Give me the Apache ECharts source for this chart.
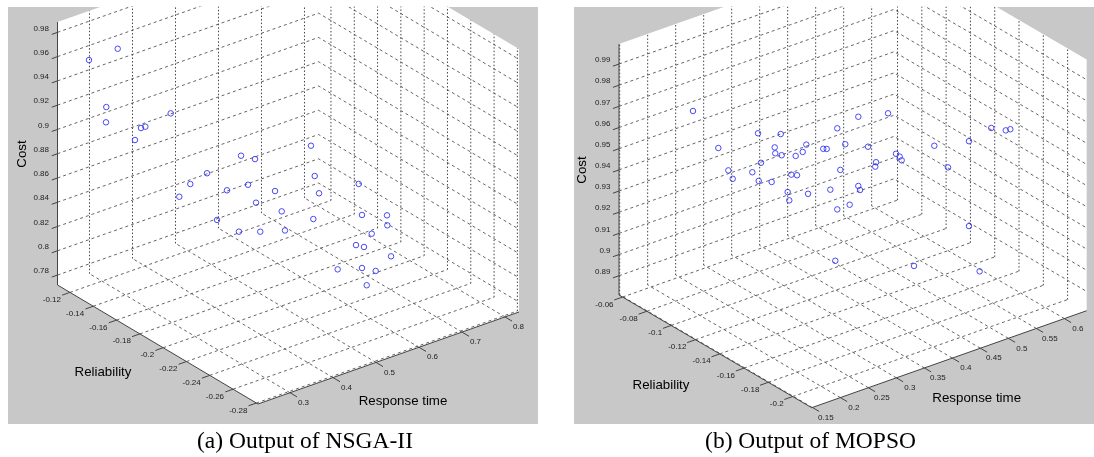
<!DOCTYPE html>
<html>
<head>
<meta charset="utf-8">
<script src="https://cdn.jsdelivr.net/npm/echarts@6/dist/echarts.min.js"></script>
<style>html,body{margin:0;padding:0;background:#fff}#c{width:1094px;height:457px}</style>
</head>
<body>
<div id="c"></div>
<script>
// Tick labels
const nsgaTimeTicks = [0.3, 0.4, 0.5, 0.6, 0.7, 0.8];
const nsgaReliabilityTicks = [-0.12, -0.14, -0.16, -0.18, -0.2, -0.22, -0.24, -0.26, -0.28];
const nsgaCostTicks = [0.78, 0.8, 0.82, 0.84, 0.86, 0.88, 0.9, 0.92, 0.94, 0.96, 0.98];
const mopsoTimeTicks = [0.15, 0.2, 0.25, 0.3, 0.35, 0.4, 0.45, 0.5, 0.55, 0.6];
const mopsoReliabilityTicks = [-0.06, -0.08, -0.1, -0.12, -0.14, -0.16, -0.18, -0.2];
const mopsoCostTicks = [0.89, 0.9, 0.91, 0.92, 0.93, 0.94, 0.95, 0.96, 0.97, 0.98, 0.99];

// Values. A single 3D view does not reveal depth, so each
// point is read as lying on the box's vertical diagonal plane (see reliabilityOnPlane).
const nsgaTime = [.2670,.3048,.2898,.2894,.3745,.3354,.3411,.3275,.4670,.4854,.4222,.4003,.4762,.4485,.3858,.5117,.4867,.4354,.5205,.4643,.4923,.5248,.5621,.5590,.5639,.5696,.6218,.6261,.6590,.6594,.6389,.6182,.6287,.6643,.5941,.6261,.6441,.6323];
const nsgaCost = [.9587,.9694,.9208,.9082,.9187,.9052,.9065,.8950,.8872,.8851,.8711,.8614,.8636,.8580,.8504,.8597,.8492,.8331,.8433,.8245,.8255,.8277,.8385,.8988,.8740,.8600,.8696,.8442,.8451,.8369,.8292,.8191,.8179,.8115,.7982,.8005,.7987,.7865];
const mopsoTime = [.2265,.2531,.2948,.3186,.3123,.3129,.3196,.3455,.3417,.3343,.3633,.3669,.3780,.3864,.2979,.2636,.2682,.2888,.2955,.3091,.3297,.3357,.3812,.3707,.3259,.3473,.3276,.3780,.4001,.4313,.4103,.4397,.4435,.4456,.4187,.4179,.4001,.4019,.3910,.4799,.5163,.5397,.5549,.5597,.4943,.5163,.3759,.4586,.5275];
const mopsoCost = [.9690,.9519,.9595,.9595,.9531,.9503,.9495,.9549,.9514,.9494,.9532,.9532,.9631,.9557,.9456,.9415,.9376,.9410,.9370,.9367,.9405,.9403,.9435,.9340,.9322,.9317,.9283,.9248,.9689,.9710,.9549,.9520,.9507,.9490,.9477,.9456,.9362,.9343,.9272,.9564,.9591,.9657,.9648,.9654,.9464,.9190,.9005,.8993,.8978];

const panels = [
  { name: 'a', timeTicks: nsgaTimeTicks, relTicks: nsgaReliabilityTicks, costTicks: nsgaCostTicks,
    time: nsgaTime, cost: nsgaCost,
    range: { t: [.2256, .8326], r: [-.2814, -.1093], c: [.7718, .9885] },
    bottom: [258, 404], right: [519, 312], left: [57.5, 285], costScale: 1213.5,
    rect: [8, 7, 538, 424],
    titles: [['Cost', 22, 154, 90], ['Reliability', 103, 372, 0], ['Response time', 403, 401, 0]] },
  { name: 'b', timeTicks: mopsoTimeTicks, relTicks: mopsoReliabilityTicks, costTicks: mopsoCostTicks,
    time: mopsoTime, cost: mopsoCost,
    range: { t: [.1488, .6399], r: [-.2157, -.0571], c: [.8809, .9995] },
    bottom: [811.7, 407.7], right: [1086.7, 310.7], left: [619, 295], costScale: 2117,
    rect: [574, 7, 1094, 424],
    titles: [['Cost', 582.7, 170, 90], ['Reliability', 661, 385.7, 0], ['Response time', 976.7, 398.3, 0]] }
];

function makeProjector(p) {
  const R = p.range;
  const tx = (p.right[0] - p.bottom[0]) / (R.t[1] - R.t[0]);
  const ty = (p.right[1] - p.bottom[1]) / (R.t[1] - R.t[0]);
  const rx = (p.left[0] - p.bottom[0]) / (R.r[1] - R.r[0]);
  const ry = (p.left[1] - p.bottom[1]) / (R.r[1] - R.r[0]);
  return (t, r, c) => [
    p.bottom[0] + (t - R.t[0]) * tx + (r - R.r[0]) * rx,
    p.bottom[1] + (t - R.t[0]) * ty + (r - R.r[0]) * ry - (c - R.c[0]) * p.costScale
  ];
}

const GAP = [NaN, NaN];
const grids = [], xAxes = [], yAxes = [], series = [];

function lineSeries(i, segments, color, type, width, z) {
  const data = [];
  segments.forEach(s => { s.forEach(pt => data.push(pt)); data.push(GAP); });
  return { type: 'line', xAxisIndex: i, yAxisIndex: i, data, showSymbol: false, symbol: 'none',
    connectNulls: false, clip: true, silent: true, z, animation: false,
    lineStyle: { color, type, width } };
}

function textSeries(i, items, font, color) {
  return { type: 'custom', xAxisIndex: i, yAxisIndex: i, coordinateSystem: 'cartesian2d', silent: true,
    z: 6, clip: false, animation: false, data: items,
    renderItem(params, api) {
      const it = items[params.dataIndex];
      const pos = api.coord([it.x, it.y]);
      return { type: 'text', x: pos[0], y: pos[1], rotation: (it.rot || 0) * Math.PI / 180,
        style: { text: it.text, textAlign: it.align, textVerticalAlign: 'middle', font, fill: color } };
    } };
}

panels.forEach((p, i) => {
  const P = makeProjector(p), R = p.range;
  const [tMin, tMax] = R.t, [rMin, rMax] = R.r, [cMin, cMax] = R.c;
  const [x0, y0, x1, y1] = p.rect;
  grids.push({ left: x0, top: y0, width: x1 - x0, height: y1 - y0, show: true,
    backgroundColor: '#c8c8c8', borderWidth: 0 });
  xAxes.push({ type: 'value', gridIndex: i, min: x0, max: x1, show: false });
  yAxes.push({ type: 'value', gridIndex: i, min: y0, max: y1, inverse: true, show: false });

  // white box faces
  const hull = [P(tMin, rMax, cMax), P(tMax, rMax, cMax), P(tMax, rMin, cMax),
                P(tMax, rMin, cMin), P(tMin, rMin, cMin), P(tMin, rMax, cMin)];
  series.push({ type: 'custom', xAxisIndex: i, yAxisIndex: i, coordinateSystem: 'cartesian2d', silent: true,
    clip: true, z: 1, animation: false, data: [hull[0]],
    renderItem(params, api) {
      return { type: 'polygon', shape: { points: hull.map(h => api.coord(h)) }, style: { fill: '#fff' } };
    } });

  // dashed grid: wall horizontals and floor lines
  const dashed = [];
  p.costTicks.forEach(c => dashed.push([P(tMin, rMax, c), P(tMax, rMax, c), P(tMax, rMin, c)]));
  p.relTicks.forEach(r => dashed.push([P(tMin, r, cMin), P(tMax, r, cMin)]));
  p.timeTicks.forEach(t => dashed.push([P(t, rMin, cMin), P(t, rMax, cMin)]));
  series.push(lineSeries(i, dashed, '#555555', [3, 3], 0.9, 2));

  // dotted wall verticals
  const dotted = [];
  p.timeTicks.forEach(t => dotted.push([P(t, rMax, cMin), P(t, rMax, cMax)]));
  p.relTicks.forEach(r => dotted.push([P(tMax, r, cMin), P(tMax, r, cMax)]));
  series.push(lineSeries(i, dotted, '#444444', [1.5, 2], 1, 2));

  // axis lines and outward ticks
  const solid = [
    [P(tMin, rMax, cMax), P(tMin, rMax, cMin), P(tMin, rMin, cMin), P(tMax, rMin, cMin)]
  ];
  const tSpan = tMax - tMin, rSpan = rMax - rMin;
  p.costTicks.forEach(c => solid.push([P(tMin, rMax, c), P(tMin - tSpan * .022, rMax, c)]));
  p.relTicks.forEach(r => solid.push([P(tMin, r, cMin), P(tMin - tSpan * .03, r, cMin)]));
  p.timeTicks.forEach(t => solid.push([P(t, rMin, cMin), P(t, rMin - rSpan * .035, cMin)]));
  series.push(lineSeries(i, solid, '#444444', 'solid', 1, 3));

  // points
  series.push({ type: 'scatter', xAxisIndex: i, yAxisIndex: i, silent: true, z: 4, animation: false,
    symbol: 'circle', symbolSize: 5.5,
    itemStyle: { color: 'rgba(0,0,0,0)', borderColor: '#3636f5', borderWidth: 0.9, opacity: 1 },
    data: p.time.map((t, k) => {
      // reliability cannot be read from one view: use the diagonal plane of the box
      const reliabilityOnPlane = rMax - (t - tMin) / tSpan * rSpan;
      return P(t, reliabilityOnPlane, p.cost[k]);
    }) });

  // tick labels
  const labels = [];
  p.costTicks.forEach(c => { const a = P(tMin, rMax, c); labels.push({ x: a[0] - 8.5, y: a[1] - 4, text: String(c), align: 'right' }); });
  p.relTicks.forEach(r => { const a = P(tMin, r, cMin); labels.push({ x: a[0] - 9, y: a[1] + 7.3, text: String(r), align: 'right' }); });
  p.timeTicks.forEach(t => { const a = P(t, rMin, cMin); labels.push({ x: a[0] + 13.5, y: a[1] + 10, text: String(t), align: 'center' }); });
  series.push(textSeries(i, labels, '8px "Liberation Sans"', '#222222'));

  // axis titles
  series.push(textSeries(i, p.titles.map(t => ({ text: t[0], x: t[1], y: t[2], rot: t[3], align: 'center' })),
    '13.3px "Liberation Sans"', '#000000'));
});

const chart = echarts.init(document.getElementById('c'));
chart.setOption({
  animation: false,
  backgroundColor: '#ffffff',
  title: [
    { text: '(a) Output of NSGA-II', left: 305, top: 430, textAlign: 'center', padding: 0,
      textStyle: { fontFamily: 'Liberation Serif', fontSize: 23.5, fontWeight: 'normal', color: '#000' } },
    { text: '(b) Output of MOPSO', left: 810.5, top: 430, textAlign: 'center', padding: 0,
      textStyle: { fontFamily: 'Liberation Serif', fontSize: 23.5, fontWeight: 'normal', color: '#000' } }
  ],
  grid: grids, xAxis: xAxes, yAxis: yAxes, series
});
</script>
</body>
</html>
